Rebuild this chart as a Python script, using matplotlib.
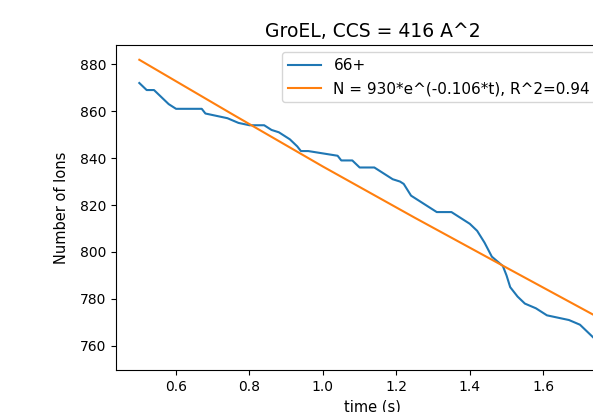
import matplotlib
matplotlib.use('Agg')
import matplotlib.pyplot as plt

# 66+ ion counts
t = [0.50, 0.52, 0.54, 0.56, 0.58, 0.60, 0.67, 0.68, 0.71, 0.74,
     0.77, 0.80, 0.84, 0.86, 0.88, 0.91, 0.93, 0.94, 0.96, 1.00,
     1.04, 1.05, 1.08, 1.10, 1.14, 1.16, 1.19, 1.21, 1.22, 1.24,
     1.26, 1.28, 1.30, 1.31, 1.35, 1.37, 1.40, 1.42, 1.44, 1.46,
     1.49, 1.50, 1.51, 1.53, 1.55, 1.58, 1.61, 1.64, 1.67, 1.70,
     1.72, 1.74, 1.77]
n_ions = [872, 869, 869, 866, 863, 861, 861, 859, 858, 857,
          855, 854, 854, 852, 851, 848, 845, 843, 843, 842,
          841, 839, 839, 836, 836, 834, 831, 830, 829, 824,
          822, 820, 818, 817, 817, 815, 812, 809, 804, 798,
          794, 790, 785, 781, 778, 776, 773, 772, 771, 769,
          766, 763, 756]

# exponential fit, values
t_fit = [0.50, 0.75, 1.00, 1.25, 1.50, 1.77]
n_fit = [881.9, 859.0, 836.4, 814.6, 793.3, 770.4]

fig = plt.figure(figsize=(5.93, 4.12), dpi=100)
# original figure was wider; the picture is cropped on the right
ax = fig.add_axes([116/593, 1 - 370/412, 513/593, 325/412])

ax.plot(t, n_ions, label='66+')
ax.plot(t_fit, n_fit, label='N = 930*e^(-0.106*t), R^2=0.94')
ax.set_xlabel('time (s)', fontsize=10.5)
ax.set_ylabel('Number of Ions', fontsize=10.5, labelpad=8)
ax.set_title('GroEL, CCS = 416 A^2', fontsize=13.5)
ax.legend(loc='upper left', bbox_to_anchor=((282.3 - 116) / 513, 1 - 7.3 / 325),
          borderaxespad=0, handlelength=2.15, fontsize=11)

fig.savefig('out.png', dpi=100)
